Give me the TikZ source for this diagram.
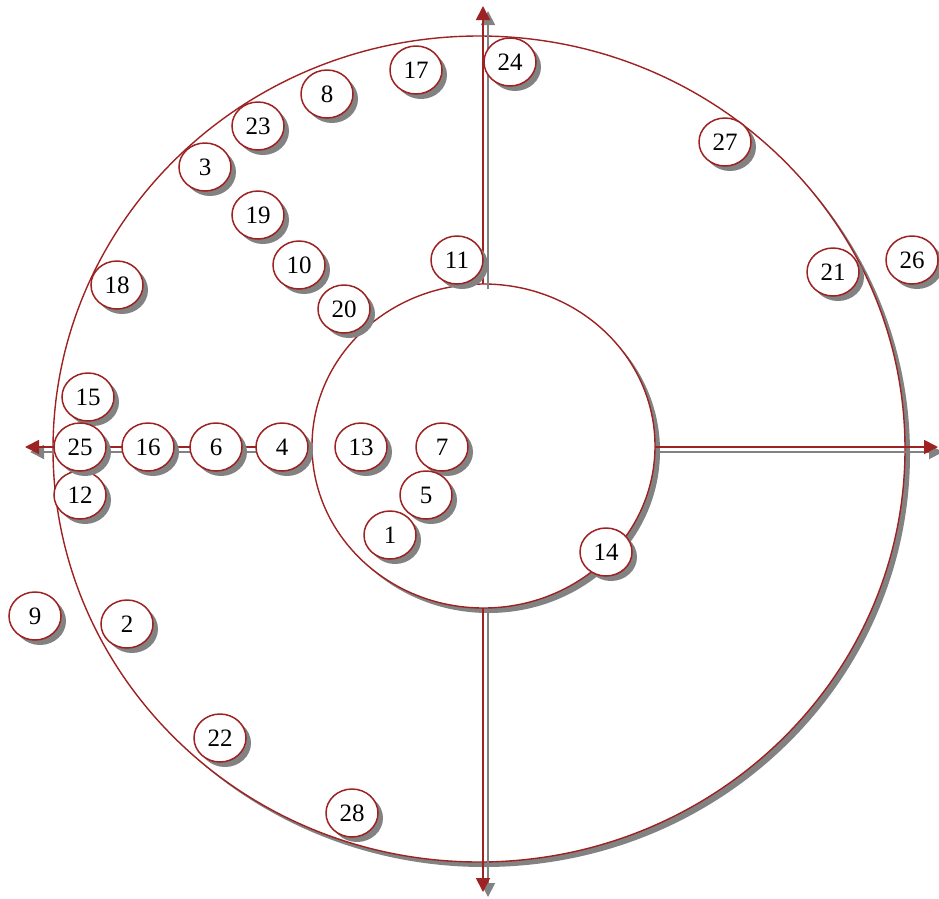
\documentclass[tikz,border=0pt]{standalone}
\usepackage{fontspec}
\setmainfont{Liberation Serif}
\usetikzlibrary{shapes.geometric,shadows,arrows.meta}
\definecolor{dred}{RGB}{158,34,34}
\definecolor{shgray}{RGB}{130,130,130}
\begin{document}
\begin{tikzpicture}[x=1pt,y=-1pt,
  num/.style={ellipse,draw=dred,line width=1.5pt,fill=white,minimum width=52pt,minimum height=48pt,inner sep=0pt,
    font=\fontsize{25}{25}\selectfont,
    drop shadow={shadow xshift=5pt,shadow yshift=-5pt,fill=shgray,opacity=1}},
  ring/.style={ellipse,draw=dred,line width=1.4pt,fill=white,inner sep=0pt,
    drop shadow={shadow xshift=5pt,shadow yshift=-5pt,fill=shgray,opacity=1}},
  axisline/.style={draw=dred,line width=1.8pt,-{Triangle[length=14pt,width=14pt]}},
  axisshadow/.style={draw=shgray,line width=1.8pt,-{Triangle[length=14pt,width=14pt]}}]
\useasboundingbox (0,0) rectangle (939,898);
\node[ring,minimum width=852pt,minimum height=826pt] (outer) at (479,449) {};
\node[ring,minimum width=343pt,minimum height=324pt] (inner) at (483.5,446) {};
\coordinate (tN) at (483,6);
\coordinate (tS) at (483,892);
\coordinate (tE) at (938,447);
\coordinate (tW) at (25,447);
\coordinate (iN) at (483,284);
\coordinate (iS) at (483,608);
\coordinate (iE) at (655,447);
\coordinate (iW) at (312,447);
% shadows of axes
\draw[axisshadow] ([shift={(5,5)}]iN) -- ([shift={(5,5)}]tN);
\draw[axisshadow] ([shift={(5,5)}]iS) -- ([shift={(5,5)}]tS);
\draw[axisshadow] ([shift={(5,5)}]iE) -- ([shift={(5,5)}]tE);
\draw[axisshadow] ([shift={(0,5)}]iW) -- ([shift={(5,5)}]tW);
% axes
\draw[axisline] (iN) -- (tN);
\draw[axisline] (iS) -- (tS);
\draw[axisline] (iE) -- (tE);
\draw[axisline] (iW) -- (tW);
% nodes
\node[num] (n24) at (510,62) {24};
\node[num] (n17) at (416,70) {17};
\node[num] (n8) at (327,94) {8};
\node[num] (n23) at (258,126) {23};
\node[num] (n3) at (205,167) {3};
\node[num] (n19) at (258,215) {19};
\node[num] (n10) at (299,265) {10};
\node[num] (n20) at (344,309) {20};
\node[num] (n11) at (457,260) {11};
\node[num] (n18) at (117,285) {18};
\node[num] (n15) at (88,397) {15};
\node[num] (n12) at (80,495) {12};
\node[num] (n25) at (80,447) {25};
\node[num] (n16) at (148,447) {16};
\node[num] (n6) at (216,447) {6};
\node[num] (n4) at (282,447) {4};
\node[num] (n13) at (361,447) {13};
\node[num] (n7) at (442,447) {7};
\node[num] (n5) at (426,495) {5};
\node[num] (n1) at (390,535) {1};
\node[num] (n14) at (606,552) {14};
\node[num] (n9) at (35,616) {9};
\node[num] (n2) at (127,624) {2};
\node[num] (n22) at (220,738) {22};
\node[num] (n28) at (352,813) {28};
\node[num] (n27) at (725,142) {27};
\node[num] (n21) at (833,272) {21};
\node[num] (n26) at (912,260) {26};
\end{tikzpicture}
\end{document}
